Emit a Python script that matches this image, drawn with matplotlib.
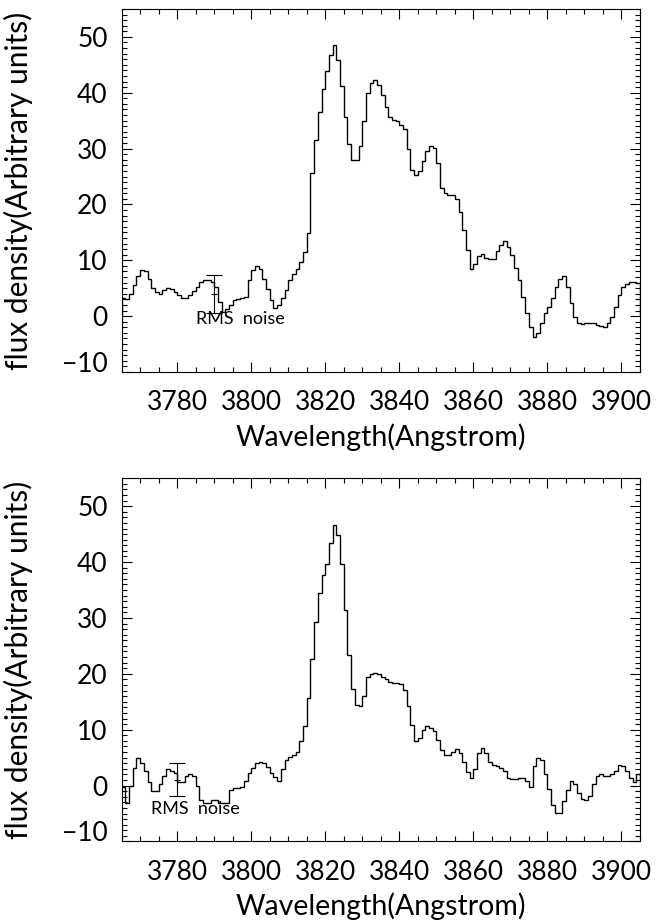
import numpy as np
import matplotlib
matplotlib.use('Agg')
from matplotlib import pyplot as plt
from matplotlib.ticker import MultipleLocator

# 1 Angstrom bins from 3765 to 3905
wl_edges = np.arange(3765, 3906)

flux_top = [3.2, 3.0, 3.9, 5.5, 7.1, 8.2, 8.0, 6.7, 5.1, 4.3,
            4.0, 4.7, 5.1, 4.8, 4.4, 3.8, 3.3, 3.3, 3.8, 4.5,
            5.2, 6.1, 6.5, 6.4, 6.1, 5.2, 2.5, 0.8, 1.2, 2.0,
            2.9, 3.0, 3.2, 3.5, 6.4, 8.2, 8.9, 8.5, 6.7, 4.9,
            2.9, 1.5, 2.0, 3.2, 4.6, 6.4, 7.6, 8.5, 9.7, 11.5,
            14.9, 25.6, 31.5, 36.6, 40.6, 43.9, 46.7, 48.5, 45.8, 41.2,
            35.7, 30.8, 28.0, 28.0, 30.5, 35.0, 39.9, 41.8, 42.3, 41.4,
            39.6, 37.4, 35.7, 35.1, 34.9, 34.3, 33.5, 30.0, 26.2, 25.3,
            25.9, 27.7, 29.5, 30.5, 30.1, 27.5, 23.0, 22.0, 21.7, 21.7,
            21.0, 18.6, 15.4, 11.8, 8.5, 9.4, 10.7, 11.1, 10.5, 10.3,
            10.3, 11.6, 12.7, 13.4, 12.4, 10.9, 8.7, 6.4, 3.5, 0.5,
            -1.9, -3.7, -3.1, -1.3, 0.5, 1.7, 3.2, 5.2, 6.7, 7.2,
            5.2, 2.3, -0.1, -1.3, -1.4, -1.3, -1.2, -1.3, -1.5, -1.8,
            -1.9, -1.3, -0.1, 1.7, 3.75, 5.2, 5.8, 6.1, 6.1, 6.0]

flux_bot = [-0.2, -3.2, -0.1, 3.2, 4.9, 4.0, 2.6, 0.6, -1.0, -1.0,
            0.2, 1.7, 3.0, 2.7, 2.3, 0.6, 0.6, 1.7, 2.1, 1.7,
            -0.1, -2.5, -3.2, -3.2, -2.5, -2.5, -3.2, -3.2, -3.2, -0.7,
            -0.4, -0.4, -0.2, 0.8, 2.3, 3.2, 4.0, 4.3, 4.0, 3.4,
            2.3, 1.6, 0.8, 2.9, 4.6, 5.2, 5.4, 6.1, 7.9, 10.6,
            15.6, 22.6, 29.3, 34.5, 37.6, 39.7, 43.5, 46.7, 44.9, 39.6,
            31.5, 23.3, 17.3, 14.5, 14.2, 16.0, 19.5, 20.0, 20.1, 19.9,
            19.5, 19.0, 18.6, 18.3, 18.3, 18.2, 17.1, 14.2, 10.9, 8.0,
            8.5, 10.0, 10.6, 10.3, 9.7, 8.2, 6.4, 5.4, 5.4, 6.0,
            6.6, 5.8, 4.2, 2.4, 1.4, 3.0, 5.8, 6.7, 5.8, 4.2,
            3.75, 3.5, 3.2, 2.7, 1.4, 1.1, 1.1, 1.4, 1.4, 0.8,
            -0.2, 3.5, 4.9, 4.6, 2.0, -0.6, -3.4, -4.9, -4.9, -2.8,
            -0.7, 0.8, 0.2, -1.3, -2.4, -2.6, -1.8, 0.2, 1.7, 2.1,
            1.8, 1.7, 2.0, 2.6, 3.6, 3.5, 2.7, 1.4, 0.6, 2.0]

# rms noise bars: wavelength, centre, half length
rms_top = (3790, 4.05, 3.4)
rms_bot = (3780, 1.07, 3.0)
# text anchor (left, centre)
txt_top = (3785, -0.5)
txt_bot = (3773, -4.2)

plt.rcParams['font.family'] = ['Lato', 'DejaVu Sans']

fig = plt.figure(figsize=(6.56, 9.24), dpi=100)
panels = [
    (fig.add_axes([0.1855, 0.5974, 0.790, 0.3929]), flux_top, rms_top, txt_top),
    (fig.add_axes([0.1855, 0.0893, 0.790, 0.3931]), flux_bot, rms_bot, txt_bot),
]

for ax, flux, rms, txt in panels:
    ax.stairs(flux, wl_edges, color='k', lw=1.0)
    ax.errorbar(rms[0], rms[1], yerr=rms[2], fmt='_', color='k', ms=5,
                mew=0.8, elinewidth=0.8, capsize=6, capthick=0.8)
    ax.text(txt[0], txt[1], 'RMS  noise', fontsize=13, ha='left', va='center')

    ax.set_xlim(3765, 3905)
    ax.set_ylim(-10, 55)
    ax.xaxis.set_minor_locator(MultipleLocator(5))
    ax.yaxis.set_minor_locator(MultipleLocator(1))
    ax.set_xticks(np.arange(3780, 3901, 20))
    ax.set_yticks(np.arange(-10, 51, 10))
    ax.tick_params(which='both', direction='in', top=True, right=True, width=0.8)
    ax.tick_params(which='major', length=7.5, labelsize=19)
    ax.tick_params(which='minor', length=3.5)
    ax.tick_params(axis='x', pad=13)
    ax.tick_params(axis='y', pad=10)
    for s in ax.spines.values():
        s.set_linewidth(0.8)
    ax.set_xlabel('Wavelength(Angstrom)', fontsize=20.5, labelpad=6)
    ax.set_ylabel('flux density(Arbitrary units)', fontsize=21.5)
    ax.yaxis.set_label_coords(-0.172, 0.5)
    ax.yaxis.get_major_ticks()[0].label1.set_verticalalignment('baseline')

fig.savefig('out.png', dpi=100)
